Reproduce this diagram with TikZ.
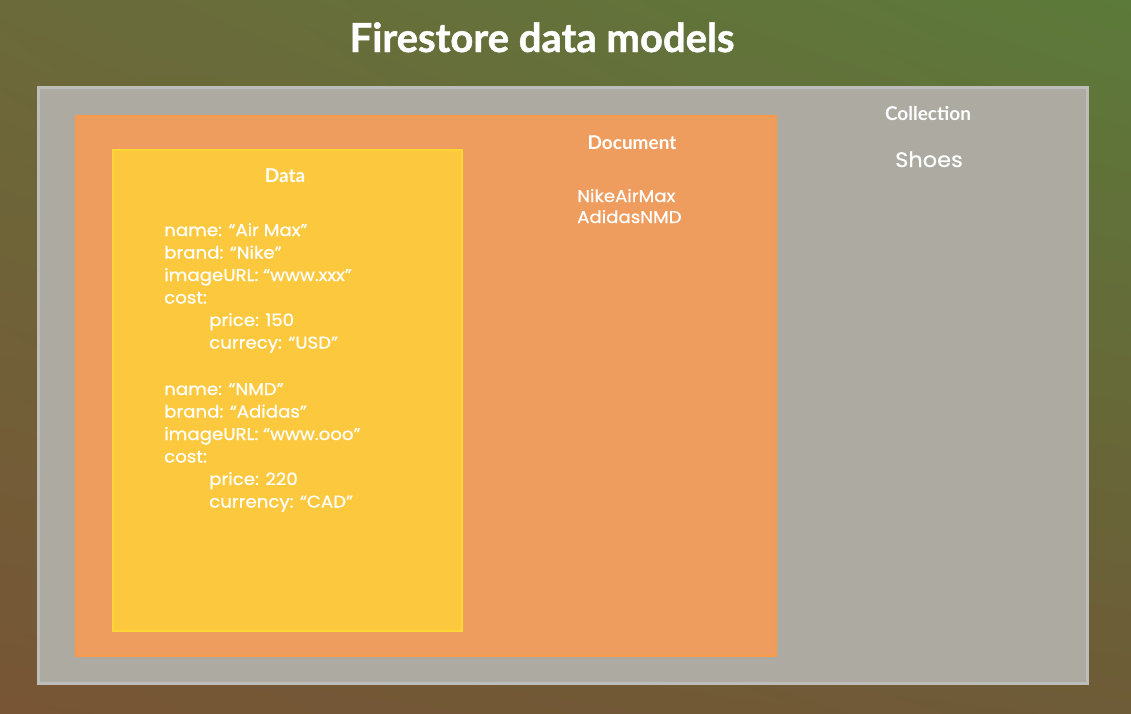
\documentclass[tikz,border=0pt]{standalone}
\usepackage{fontspec}
\usetikzlibrary{shadings}
\setmainfont{Poppins}[FakeStretch=1.07, FakeBold=0.6]
\newfontfamily\labelfont{Lato}
\newfontfamily\titlefont{Lato}[FakeBold=1.2]
\definecolor{bgtl}{HTML}{6B6A3A}
\definecolor{bgtr}{HTML}{5C7A3A}
\definecolor{bgbl}{HTML}{775535}
\definecolor{bgbr}{HTML}{6E5B37}
\definecolor{collfill}{HTML}{ACAAA1}
\definecolor{colledge}{HTML}{BDBDB9}
\definecolor{docfill}{HTML}{EF9D5F}
\definecolor{docedge}{HTML}{F99A4A}
\definecolor{datafill}{HTML}{FCC93E}
\definecolor{dataedge}{HTML}{FDD535}
\tikzset{
  lbl/.style={text=white, font=\labelfont\bfseries\fontsize{19}{22}\selectfont, anchor=base, inner sep=0pt},
  body/.style={text=white, font=\fontsize{17}{20}\selectfont, anchor=base west, inner sep=0pt},
}
\begin{document}
\begin{tikzpicture}[x=1pt,y=-1pt]
\useasboundingbox (0,0) rectangle (1131,713);
\shade[upper left=bgtl, upper right=bgtr, lower left=bgbl, lower right=bgbr] (0,0) rectangle (1131,713);
\node[text=white, font=\titlefont\bfseries\fontsize{40}{46}\selectfont, anchor=base, inner sep=0pt] (title) at (542,52) {Firestore data models};
% collection
\draw[colledge, line width=3pt, fill=collfill] (38,87) rectangle (1087,683);
\node[lbl] (coll) at (928,120) {Collection};
\node[body, anchor=base, font=\fontsize{21}{25}\selectfont] (shoes) at (929,167) {Shoes};
% document
\draw[docedge, line width=2pt, fill=docfill] (76,116) rectangle (776,656);
\node[lbl] (doc) at (632,149) {Document};
\node[body] (d1) at (577,202) {NikeAirMax};
\node[body] (d2) at (577,223) {AdidasNMD};
% data
\draw[dataedge, line width=2pt, fill=datafill] (113,150) rectangle (462,631);
\node[lbl] (data) at (285,182) {Data};
\node[body] (a1) at (164,236) {name: “Air Max”};
\node[body] (a2) at (164,258.5) {brand: “Nike”};
\node[body] (a3) at (164,281) {imageURL: “www.xxx”};
\node[body] (a4) at (164,303.5) {cost:};
\node[body] (a5) at (209,326) {price: 150};
\node[body] (a6) at (209,348.5) {currecy: “USD”};
\node[body] (b1) at (164,395) {name: “NMD”};
\node[body] (b2) at (164,417.5) {brand: “Adidas”};
\node[body] (b3) at (164,440) {imageURL: “www.ooo”};
\node[body] (b4) at (164,462.5) {cost:};
\node[body] (b5) at (209,485) {price: 220};
\node[body] (b6) at (209,507.5) {currency: “CAD”};
\end{tikzpicture}
\end{document}
